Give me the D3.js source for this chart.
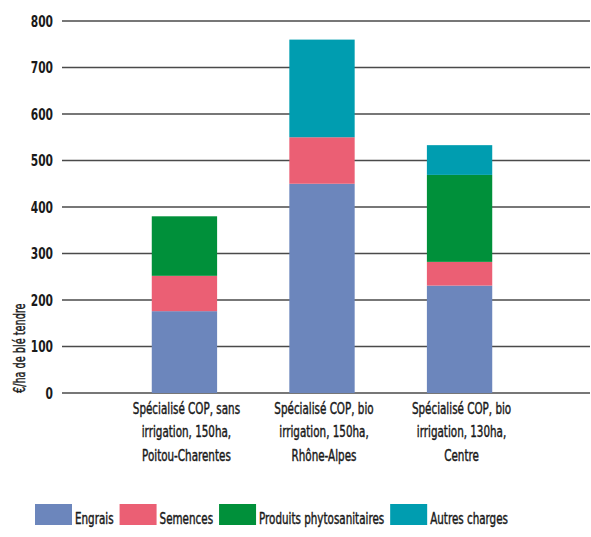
<!DOCTYPE html>
<html>
<head>
<meta charset="utf-8">
<script src="https://cdn.jsdelivr.net/npm/d3@7"></script>
<style>
  body { margin: 0; background: #fff; }
  svg { display: block; }
  text { font-family: "DejaVu Sans Condensed", "DejaVu Sans", sans-serif; fill: #1a1a1a; }
  text.medium { stroke: #1a1a1a; stroke-width: 0.45px; }
</style>
</head>
<body>
<svg id="chart" width="591" height="537"></svg>
<script>
// data
const categories = [
  ["Spécialisé COP, sans", "irrigation, 150ha,", "Poitou-Charentes"],
  ["Spécialisé COP, bio", "irrigation, 150ha,", "Rhône-Alpes"],
  ["Spécialisé COP, bio", "irrigation, 130ha,", "Centre"]
];
const seriesNames = ["Engrais", "Semences", "Produits phytosanitaires", "Autres charges"];
const engrais = [176, 450, 231];
const semences = [76, 100, 51];
const phyto = [128, 0, 187];
const autres = [0, 210, 64];
const yTicks = [0, 100, 200, 300, 400, 500, 600, 700, 800];
const colors = ["#6c86bc", "#eb5f74", "#00903a", "#009db0"];

const svg = d3.select("#chart");
const gridLeft = 62, gridRight = 590;
const squeeze = 0.72; // the original font is a narrow DIN-like face

// squeeze a text horizontally around its own x anchor
function narrow(sel) {
  sel.attr("transform", function () {
    const ax = +this.getAttribute("x") || 0;
    return "translate(" + ax * (1 - squeeze) + ",0) scale(" + squeeze + ",1)";
  });
}

const y = d3.scaleLinear().domain([0, 800]).range([393, 21]);
const x = d3.scaleBand()
  .domain(d3.range(categories.length))
  .range([116, 528])
  .paddingInner(0.525)
  .paddingOuter(0.26);

// gridlines
svg.append("g").selectAll("line")
  .data(yTicks)
  .join("line")
  .attr("x1", gridLeft)
  .attr("x2", gridRight)
  .attr("y1", d => y(d))
  .attr("y2", d => y(d))
  .attr("stroke", "#4a4a4a")
  .attr("stroke-width", 1.6);

// y tick labels
svg.append("g").selectAll("text")
  .data(yTicks)
  .join("text")
  .attr("x", 53)
  .attr("y", d => y(d))
  .attr("dy", "0.36em")
  .attr("text-anchor", "end")
  .attr("font-size", 16.5)
  .attr("font-weight", "bold")
  .text(d => d)
  .call(narrow);

// y title
svg.append("text")
  .attr("class", "medium")
  .attr("transform", "translate(25,393) rotate(-90) scale(" + squeeze + ",1)")
  .attr("text-anchor", "start")
  .attr("font-size", 15)
  .text("€/ha de blé tendre");

// stacked bars
const rows = categories.map((c, i) => ({
  i: i,
  "Engrais": engrais[i],
  "Semences": semences[i],
  "Produits phytosanitaires": phyto[i],
  "Autres charges": autres[i]
}));
const stack = d3.stack().keys(seriesNames)(rows);

svg.append("g").selectAll("g")
  .data(stack)
  .join("g")
  .attr("fill", (d, k) => colors[k])
  .selectAll("rect")
  .data(d => d)
  .join("rect")
  .attr("x", d => x(d.data.i))
  .attr("width", x.bandwidth())
  .attr("y", d => y(d[1]))
  .attr("height", d => y(d[0]) - y(d[1]));

// category labels
const cat = svg.append("g").selectAll("text")
  .data(categories)
  .join("text")
  .attr("class", "medium")
  .attr("x", (d, i) => x(i) + x.bandwidth() / 2 + 2)
  .attr("y", 414)
  .attr("text-anchor", "middle")
  .attr("font-size", 16)
  .call(narrow);
cat.selectAll("tspan")
  .data(d => d)
  .join("tspan")
  .attr("x", function () { return this.parentNode.getAttribute("x"); })
  .attr("dy", (d, j) => j === 0 ? 0 : 23.5)
  .text(d => d);

// legend
const legend = svg.append("g");
let lx = 35;
seriesNames.forEach((name, k) => {
  legend.append("rect")
    .attr("x", lx)
    .attr("y", 504)
    .attr("width", 37)
    .attr("height", 21)
    .attr("fill", colors[k]);
  const t = legend.append("text")
    .attr("class", "medium")
    .attr("x", lx + 40)
    .attr("y", 524)
    .attr("font-size", 16)
    .text(name)
    .call(narrow);
  lx += 40 + t.node().getComputedTextLength() * squeeze + 6;
});
</script>
</body>
</html>
